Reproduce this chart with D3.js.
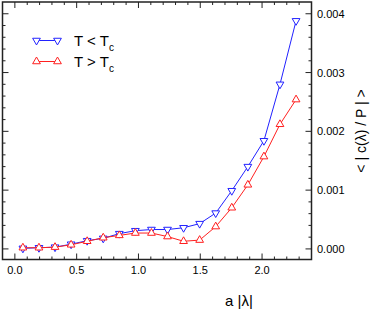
<!DOCTYPE html>
<html>
<head>
<meta charset="utf-8">
<script src="https://cdn.jsdelivr.net/npm/d3@7"></script>
<style>
  body { margin: 0; background: #fff; }
  svg { font-family: "Liberation Sans", Arial, sans-serif; }
</style>
</head>
<body>
<div id="chart"></div>
<script>
// a|lambda| values
const lambdaX = [0.065, 0.195, 0.325, 0.455, 0.585, 0.715, 0.845, 0.975, 1.105,
  1.235, 1.365, 1.495, 1.625, 1.755, 1.885, 2.015, 2.145, 2.275];
// T < Tc
const belowTc = [0.00001, 0.00002, 0.00003, 0.00008, 0.00014, 0.00018, 0.00026, 0.00031, 0.00033,
  0.00033, 0.00036, 0.00043, 0.00061, 0.00099, 0.0014, 0.00184, 0.0028, 0.00388];
// T > Tc
const aboveTc = [0.00002, 0.00002, 0.00003, 0.00007, 0.00013, 0.00019, 0.00023, 0.00027, 0.00027,
  0.00021, 0.00013, 0.00015, 0.00038, 0.0007, 0.00109, 0.00157, 0.00212, 0.00254];

const xTicks = [0.0, 0.5, 1.0, 1.5, 2.0];
const yTicks = [0.000, 0.001, 0.002, 0.003, 0.004];

const width = 372, height = 311;
const plotLeft = 2.5, plotRight = 311.5, plotTop = 2, plotBottom = 259.5;

const svg = d3.select("#chart").append("svg")
  .attr("width", width)
  .attr("height", height);

const x = d3.scaleLinear().domain([-0.1, 2.4]).range([plotLeft, plotRight]);
const y = d3.scaleLinear().domain([-0.00018, 0.0042]).range([plotBottom, plotTop]);

const axisColor = "#222";

// minor ticks
const xMinor = d3.range(-1, 24).map(d => d / 10).filter(d => d > -0.1 && d < 2.4);
const yMinor = d3.range(-1, 22).map(d => d * 0.0002).filter(d => d > -0.00018 && d < 0.0042);

function tickLen(v, majors) {
  return majors.some(m => Math.abs(m - v) < 1e-9) ? 6 : 3;
}

const ticks = svg.append("g").attr("stroke", axisColor).attr("stroke-width", 1);
xMinor.forEach(v => {
  const len = tickLen(v, xTicks);
  ticks.append("line").attr("x1", x(v)).attr("x2", x(v)).attr("y1", plotBottom).attr("y2", plotBottom - len);
  ticks.append("line").attr("x1", x(v)).attr("x2", x(v)).attr("y1", plotTop).attr("y2", plotTop + len);
});
yMinor.forEach(v => {
  const len = tickLen(v, yTicks);
  ticks.append("line").attr("y1", y(v)).attr("y2", y(v)).attr("x1", plotRight).attr("x2", plotRight - len);
  ticks.append("line").attr("y1", y(v)).attr("y2", y(v)).attr("x1", plotLeft).attr("x2", plotLeft + len);
});

// frame
svg.append("rect")
  .attr("x", plotLeft).attr("y", plotTop)
  .attr("width", plotRight - plotLeft).attr("height", plotBottom - plotTop)
  .attr("fill", "none").attr("stroke", axisColor).attr("stroke-width", 1.5);

// tick labels
svg.append("g").selectAll("text")
  .data(xTicks).enter().append("text")
  .attr("x", d => x(d))
  .attr("y", 274)
  .attr("text-anchor", "middle")
  .attr("font-size", 11)
  .text(d3.format(".1f"));

svg.append("g").selectAll("text")
  .data(yTicks).enter().append("text")
  .attr("x", 317)
  .attr("y", d => y(d) + 4)
  .attr("font-size", 11)
  .text(d3.format(".3f"));

// axis titles
svg.append("text")
  .attr("x", 239).attr("y", 306)
  .attr("text-anchor", "middle")
  .attr("font-size", 15)
  .text("a |λ|");

svg.append("text")
  .attr("transform", "translate(366,131) rotate(-90)")
  .attr("text-anchor", "middle")
  .attr("font-size", 14)
  .text("< | c(λ) / P | >");

const line = d3.line().x(d => x(d[0])).y(d => y(d[1]));
const tri = d3.symbol().type(d3.symbolTriangle).size(26);

const series = [
  { name: "T < T", values: belowTc, color: "#2222ff", down: true },
  { name: "T > T", values: aboveTc, color: "#ff2020", down: false }
];

series.forEach(s => {
  const pts = lambdaX.map((v, i) => [v, s.values[i]]);
  svg.append("path")
    .attr("d", line(pts))
    .attr("fill", "none")
    .attr("stroke", s.color)
    .attr("stroke-width", 1);
  svg.append("g").selectAll("path")
    .data(pts).enter().append("path")
    .attr("d", tri)
    .attr("transform", d => "translate(" + x(d[0]) + "," + y(d[1]) + ")" + (s.down ? " rotate(180)" : ""))
    .attr("fill", "#fff")
    .attr("stroke", s.color)
    .attr("stroke-width", 1);
});

// legend
series.forEach((s, i) => {
  const ly = 40.5 + i * 21;
  const g = svg.append("g");
  g.append("line")
    .attr("x1", 36.5).attr("x2", 57.5)
    .attr("y1", ly).attr("y2", ly)
    .attr("stroke", s.color).attr("stroke-width", 1);
  [36.5, 57.5].forEach(lx => {
    g.append("path")
      .attr("d", tri)
      .attr("transform", "translate(" + lx + "," + ly + ")" + (s.down ? " rotate(180)" : ""))
      .attr("fill", "#fff")
      .attr("stroke", s.color)
      .attr("stroke-width", 1);
  });
  const t = g.append("text")
    .attr("x", 74).attr("y", ly + 5)
    .attr("font-size", 15)
    .text(s.name);
  t.append("tspan")
    .attr("font-size", 10)
    .attr("dy", 5)
    .text("c");
});
</script>
</body>
</html>
